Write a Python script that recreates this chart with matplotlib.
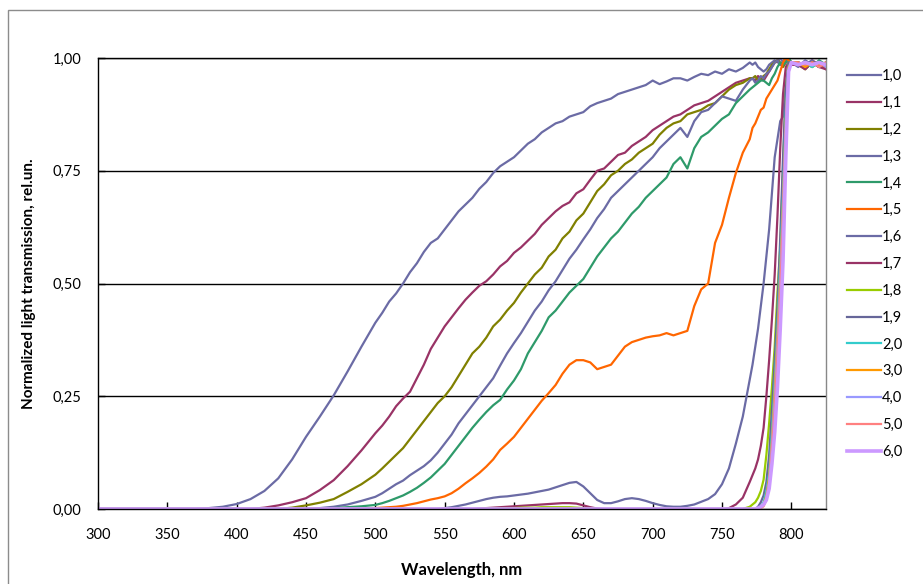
import matplotlib
matplotlib.use("Agg")
import matplotlib.pyplot as plt
from matplotlib.patches import Rectangle

plt.rcParams['font.family'] = ['Lato', 'DejaVu Sans']

# wavelength grid (nm)
wavelength = (list(range(300, 501, 10)) + list(range(505, 771, 5))
              + list(range(772, 801, 2)) + list(range(805, 826, 5)))

labels = ["1,0", "1,1", "1,2", "1,3", "1,4", "1,5", "1,6", "1,7",
          "1,8", "1,9", "2,0", "3,0", "4,0", "5,0", "6,0"]
colors = ["#6B6BA5", "#993366", "#808000", "#6B6BA5", "#2E9A6A", "#FF6600",
          "#6B6BA5", "#993366", "#99CC00", "#666699", "#33CCCC", "#FF9900",
          "#9999FF", "#FF8080", "#CC99FF"]

Z10 = [0.0] * 10

s_1_0 = ([0, 0, 0, 0, 0, 0, 0, 0, 0.002, 0.005, 0.011, 0.022, 0.04, 0.068, 0.11, 0.16, 0.205, 0.252, 0.305, 0.36, 0.413]
         + [0.435, 0.46, 0.478, 0.50, 0.525, 0.545, 0.57, 0.59, 0.60, 0.62,
            0.64, 0.66, 0.675, 0.69, 0.71, 0.725, 0.745, 0.76, 0.77, 0.78,
            0.795, 0.81, 0.82, 0.835, 0.845, 0.855, 0.86, 0.87, 0.875, 0.88,
            0.893, 0.90, 0.905, 0.91, 0.92, 0.925, 0.93, 0.935, 0.94, 0.95,
            0.942, 0.948, 0.955, 0.955, 0.95, 0.958, 0.965, 0.962, 0.97, 0.965,
            0.975, 0.97, 0.978, 0.99]
         + [0.985, 0.99, 0.98, 0.975, 0.97, 0.975, 0.985, 0.99, 0.995, 0.99, 1.0, 0.99, 0.995, 1.0, 0.99]
         + [0.98, 0.995, 0.985, 0.99, 0.985])

s_1_1 = ([0, 0, 0, 0, 0, 0, 0, 0, 0, 0, 0, 0, 0.003, 0.008, 0.015, 0.024, 0.042, 0.064, 0.095, 0.13, 0.168]
         + [0.185, 0.205, 0.228, 0.245, 0.26, 0.29, 0.32, 0.355, 0.38, 0.405,
            0.425, 0.445, 0.464, 0.48, 0.495, 0.505, 0.52, 0.538, 0.55, 0.568,
            0.58, 0.595, 0.61, 0.63, 0.645, 0.66, 0.672, 0.68, 0.70, 0.709,
            0.73, 0.75, 0.755, 0.77, 0.785, 0.79, 0.805, 0.815, 0.825, 0.84,
            0.85, 0.86, 0.87, 0.875, 0.885, 0.895, 0.90, 0.905, 0.915, 0.925,
            0.935, 0.945, 0.95, 0.955]
         + [0.955, 0.95, 0.96, 0.955, 0.95, 0.96, 0.97, 0.98, 0.99, 0.995, 0.985, 0.99, 1.0, 0.995, 0.985]
         + [0.99, 0.98, 0.995, 0.985, 0.975])

s_1_2 = ([0, 0, 0, 0, 0, 0, 0, 0, 0, 0, 0, 0, 0, 0, 0.003, 0.008, 0.014, 0.022, 0.038, 0.055, 0.076]
         + [0.09, 0.105, 0.12, 0.135, 0.155, 0.175, 0.195, 0.215, 0.235, 0.25,
            0.27, 0.295, 0.32, 0.345, 0.36, 0.38, 0.405, 0.42, 0.44, 0.457,
            0.48, 0.50, 0.52, 0.535, 0.56, 0.575, 0.60, 0.615, 0.64, 0.655,
            0.68, 0.705, 0.72, 0.74, 0.75, 0.765, 0.775, 0.79, 0.80, 0.81,
            0.83, 0.845, 0.855, 0.86, 0.875, 0.88, 0.885, 0.895, 0.90, 0.915,
            0.93, 0.94, 0.945, 0.955]
         + [0.955, 0.96, 0.95, 0.955, 0.96, 0.965, 0.975, 0.985, 0.99, 0.995, 0.99, 0.98, 0.99, 1.0, 0.99]
         + [0.985, 0.975, 0.99, 0.98, 0.985])

s_1_3 = ([0, 0, 0, 0, 0, 0, 0, 0, 0, 0, 0, 0, 0, 0, 0, 0, 0.002, 0.005, 0.01, 0.018, 0.027]
         + [0.035, 0.045, 0.055, 0.063, 0.075, 0.085, 0.095, 0.108, 0.125, 0.145,
            0.165, 0.19, 0.21, 0.23, 0.25, 0.27, 0.29, 0.318, 0.345, 0.368,
            0.39, 0.415, 0.44, 0.46, 0.485, 0.505, 0.53, 0.555, 0.575, 0.598,
            0.62, 0.645, 0.665, 0.69, 0.705, 0.72, 0.735, 0.75, 0.765, 0.78,
            0.80, 0.815, 0.83, 0.845, 0.825, 0.86, 0.88, 0.885, 0.90, 0.915,
            0.91, 0.905, 0.93, 0.95]
         + [0.955, 0.945, 0.95, 0.96, 0.955, 0.965, 0.97, 0.98, 0.99, 0.995, 0.985, 0.99, 1.0, 0.99, 0.985]
         + [0.99, 0.985, 0.995, 0.98, 0.99])

s_1_4 = ([0, 0, 0, 0, 0, 0, 0, 0, 0, 0, 0, 0, 0, 0, 0, 0, 0, 0.002, 0.004, 0.006, 0.009]
         + [0.013, 0.018, 0.024, 0.03, 0.038, 0.047, 0.058, 0.07, 0.085, 0.10,
            0.12, 0.14, 0.16, 0.18, 0.198, 0.215, 0.23, 0.242, 0.265, 0.285,
            0.31, 0.345, 0.37, 0.395, 0.425, 0.44, 0.46, 0.48, 0.495, 0.51,
            0.535, 0.56, 0.58, 0.60, 0.615, 0.635, 0.655, 0.67, 0.69, 0.705,
            0.72, 0.735, 0.765, 0.78, 0.755, 0.80, 0.825, 0.835, 0.85, 0.865,
            0.875, 0.90, 0.915, 0.93]
         + [0.935, 0.94, 0.945, 0.95, 0.95, 0.945, 0.94, 0.955, 0.965, 0.98, 0.99, 0.985, 0.99, 1.0, 0.99]
         + [0.985, 0.99, 0.98, 0.995, 0.985])

s_1_5 = ([0] * 20 + [0.002]
         + [0.003, 0.004, 0.005, 0.007, 0.01, 0.013, 0.017, 0.021, 0.024, 0.028,
            0.035, 0.045, 0.057, 0.068, 0.08, 0.094, 0.11, 0.131, 0.145, 0.16,
            0.18, 0.20, 0.22, 0.24, 0.257, 0.275, 0.30, 0.32, 0.33, 0.33,
            0.325, 0.31, 0.315, 0.32, 0.34, 0.36, 0.37, 0.375, 0.38, 0.383,
            0.385, 0.39, 0.385, 0.39, 0.395, 0.45, 0.487, 0.50, 0.59, 0.63,
            0.69, 0.745, 0.79, 0.82]
         + [0.845, 0.855, 0.87, 0.885, 0.89, 0.91, 0.92, 0.93, 0.94, 0.95, 0.97, 0.99, 1.0, 0.995, 0.985]
         + [0.99, 0.98, 0.99, 0.985, 0.98])

s_1_6 = ([0] * 21
         + [0, 0, 0, 0, 0, 0, 0, 0, 0, 0.002,
            0.004, 0.007, 0.01, 0.014, 0.018, 0.022, 0.025, 0.027, 0.028, 0.03,
            0.032, 0.034, 0.037, 0.04, 0.043, 0.048, 0.053, 0.058, 0.06, 0.05,
            0.035, 0.02, 0.013, 0.013, 0.017, 0.022, 0.024, 0.022, 0.018, 0.013,
            0.009, 0.006, 0.005, 0.005, 0.007, 0.01, 0.016, 0.022, 0.033, 0.055,
            0.09, 0.145, 0.205, 0.287]
         + [0.32, 0.36, 0.40, 0.45, 0.50, 0.56, 0.62, 0.70, 0.78, 0.82, 0.86, 0.87, 0.94, 0.99, 0.985]
         + [0.99, 0.98, 0.99, 0.985, 0.99])

s_1_7 = ([0] * 21
         + Z10
         + [0, 0, 0, 0, 0.001, 0.002, 0.003, 0.004, 0.005, 0.006,
            0.007, 0.008, 0.009, 0.01, 0.011, 0.012, 0.013, 0.013, 0.012, 0.008,
            0.004, 0.001, 0, 0, 0, 0, 0, 0, 0, 0]
         + Z10
         + [0.002, 0.01, 0.025, 0.06]
         + [0.075, 0.09, 0.11, 0.14, 0.18, 0.25, 0.33, 0.42, 0.52, 0.65, 0.80, 0.92, 0.98, 0.99, 0.985]
         + [0.985, 0.975, 0.99, 0.98, 0.975])

s_1_8 = ([0] * 21
         + Z10
         + [0, 0, 0, 0, 0, 0.001, 0.001, 0.002, 0.002, 0.002,
            0.003, 0.003, 0.003, 0.004, 0.004, 0.004, 0.004, 0.004, 0.003, 0.002,
            0.001, 0, 0, 0, 0, 0, 0, 0, 0, 0]
         + Z10
         + [0, 0, 0, 0.005]
         + [0.01, 0.015, 0.025, 0.04, 0.065, 0.12, 0.19, 0.27, 0.36, 0.48, 0.58, 0.75, 0.93, 0.99, 0.99]
         + [0.985, 0.99, 0.98, 0.99, 0.985])

s_1_9 = ([0] * 75
         + [0, 0, 0.005, 0.015, 0.03, 0.06, 0.12, 0.22, 0.33, 0.45, 0.60, 0.78, 0.93, 0.99, 0.99]
         + [0.99, 0.985, 0.99, 0.98, 0.99])

s_2_0 = ([0] * 75
         + [0, 0, 0, 0.005, 0.015, 0.04, 0.08, 0.17, 0.28, 0.40, 0.55, 0.70, 0.88, 0.98, 0.99]
         + [0.985, 0.99, 0.98, 0.99, 0.985])

s_3_0 = ([0] * 75
         + [0, 0, 0, 0.003, 0.01, 0.03, 0.07, 0.15, 0.26, 0.38, 0.52, 0.68, 0.86, 0.98, 0.99]
         + [0.99, 0.98, 0.99, 0.985, 0.99])

s_4_0 = ([0] * 75
         + [0, 0, 0, 0.002, 0.008, 0.025, 0.06, 0.14, 0.24, 0.36, 0.50, 0.66, 0.85, 0.97, 0.99]
         + [0.985, 0.99, 0.985, 0.99, 0.98])

s_5_0 = ([0] * 75
         + [0, 0, 0, 0.002, 0.006, 0.02, 0.055, 0.13, 0.22, 0.34, 0.48, 0.64, 0.83, 0.97, 0.99]
         + [0.99, 0.985, 0.99, 0.98, 0.99])

s_6_0 = ([0] * 75
         + [0, 0, 0.002, 0.005, 0.01, 0.02, 0.045, 0.10, 0.17, 0.27, 0.40, 0.55, 0.78, 0.97, 0.99]
         + [0.985, 0.99, 0.985, 0.99, 0.985])

series = [s_1_0, s_1_1, s_1_2, s_1_3, s_1_4, s_1_5, s_1_6, s_1_7,
          s_1_8, s_1_9, s_2_0, s_3_0, s_4_0, s_5_0, s_6_0]

yticks = [0.0, 0.25, 0.5, 0.75, 1.0]
ytick_labels = ["0,00", "0,25", "0,50", "0,75", "1,00"]
xticks = list(range(300, 801, 50))

W, H = 923, 584
fig = plt.figure(figsize=(W / 100, H / 100), dpi=100)
ax = fig.add_axes([98 / W, 1 - 509 / H, (826 - 98) / W, (509 - 58) / H])

for s, lab, c in zip(series, labels, colors):
    lw = 2.6 if lab == "6,0" else 1.6
    ax.plot(wavelength, s, color=c, lw=lw, label=lab, solid_joinstyle='round')

ax.set_xlim(300, 825)
ax.set_ylim(0, 1.0)
ax.set_xticks(xticks)
ax.set_yticks(yticks)
ax.set_yticklabels(ytick_labels)
ax.yaxis.grid(True, color='black', lw=1.0)
ax.set_axisbelow(True)
ax.tick_params(axis='x', direction='in', length=5, width=1, pad=14, labelsize=10.5)
ax.tick_params(axis='y', direction='in', length=5, width=1, pad=12, labelsize=10.5)
for sp in ['left', 'bottom', 'top']:
    ax.spines[sp].set_color('black')
    ax.spines[sp].set_linewidth(1.0)
ax.spines['right'].set_color('#888888')
ax.spines['right'].set_linewidth(1.0)

ax.set_xlabel("Wavelength, nm", fontsize=12, fontweight='bold', labelpad=14)
ax.set_ylabel("Normalized light transmission, rel.un.", fontsize=11, fontweight='bold', labelpad=12)

leg = ax.legend(loc='upper left', bbox_to_anchor=(834 / W, 1 - 56 / H),
                bbox_transform=fig.transFigure, frameon=False, fontsize=10.5,
                handlelength=2.3, handletextpad=0.1, labelspacing=0.88)

fig.patches.append(Rectangle((8 / W, -0.1), 2.0, 1.1 - 10 / H, transform=fig.transFigure,
                             fill=False, edgecolor='#8C8C8C', lw=1.0))

fig.savefig("out.png", dpi=100, facecolor='white')
